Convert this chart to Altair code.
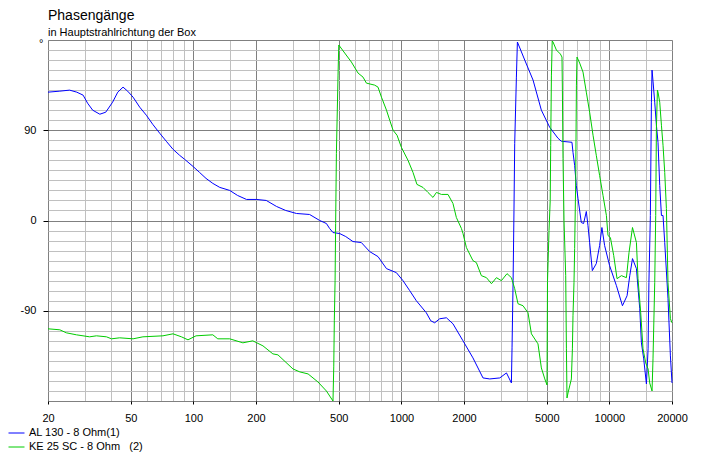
import altair as alt
import pandas as pd

# ---- data ----
al_freq = [20, 22.8, 25.4, 27.5, 29.5, 31, 32.8, 35.5, 37.9, 40.9, 43.3, 45.9, 48.3, 51.3, 55.2, 59.4,
           63.7, 68.9, 74.1, 79.8, 85.9, 90.8, 99.5, 107, 115, 124, 134, 149.5, 163, 180, 201, 224,
           251, 278, 313, 362, 405, 436, 452, 469, 505, 540, 585, 642, 704, 772, 848, 946, 1018,
           1097, 1180, 1318, 1384, 1446, 1528, 1646, 1770, 1978, 2208, 2468, 2660, 2972, 3200,
           3380, 3404, 3444, 3478, 3506, 3572, 3612, 3918, 4296, 4710, 5164, 5662, 5876, 6608,
           6684, 6808, 6934, 7064, 7328, 7516, 7746, 7890, 8036, 8280, 8650, 8974, 9206, 9486,
           10024, 10810, 11556, 12162, 12532, 12914, 13490, 13996, 14256, 14622, 15068, 15348,
           15490, 15740, 15924, 16034, 16208, 16520, 16828, 17130, 17460, 17790, 18108, 18452,
           19136, 19648, 20000]
al_phase = [128, 129, 130, 128, 125, 117, 110, 106, 108, 118, 128, 133, 129, 123, 113, 105,
            96, 87, 79, 71, 65, 61, 54, 48, 42, 37, 33, 30, 25, 21, 21, 20,
            14, 10, 7, 6, 0, -3, -8, -12, -13, -16, -21, -22, -31, -36, -48, -52, -60,
            -70, -80, -92, -100, -102, -98, -97, -103, -120, -137, -157, -158, -157, -152,
            -162, -127, -60, 10, 77, 143, 178, 160, 140, 110, 93, 82, 79, 78,
            68, 55, 35, 22, -2, -3, 9, -5, -22, -50, -43, -25, -7, -25,
            -45, -65, -85, -75, -55, -38, -48, -88, -122, -138, -163, -128,
            -62, 5, 118, 150, 139, 118, 95, 78, 35, 5, 5, -22,
            -78, -135, -162]

ke_freq = [20, 22.8, 24.5, 27.4, 31.7, 34.2, 38.2, 40.4, 44.2, 51.3, 57.2, 71.4, 79.8, 87.6, 94.2,
           103, 124, 131, 149.5, 173, 193, 216, 241, 255, 301, 325, 356, 397, 436, 469, 473,
           476, 480, 483, 487, 496, 500, 534, 575, 619, 654, 679, 744, 772, 802, 848, 879, 912,
           953, 1000, 1076, 1137, 1188, 1270, 1342, 1419, 1474, 1558, 1675, 1770, 1838, 1944,
           1978, 2054, 2208, 2294, 2424, 2564, 2710, 2864, 3026, 3220, 3380, 3506, 3636, 3844,
           4062, 4218, 4536, 4710, 4892, 5012, 5040, 5126, 5194, 5222, 5264, 5310, 5358, 5562,
           5814, 5918, 5944, 5984, 6052, 6166, 6214, 6256, 6324, 6444, 6566, 6640, 6684, 6758,
           6808, 6888, 6942, 6988, 7198, 7468, 7746, 8036, 8344, 8650, 8974, 9318, 9674, 9848,
           10112, 10492, 10884, 11426, 12074, 12426, 12914, 13490, 13728, 14146, 14510, 14950,
           15348, 15626, 16034, 16208, 16520, 16700, 16828, 17020, 17130, 17460, 17790, 18108,
           18452, 18798, 19136, 19648, 20000]
ke_phase = [-108, -109, -112, -114, -116, -115, -116, -118, -117, -118, -116, -115, -113, -116, -119,
            -115, -114, -118, -118, -122, -120, -125, -133, -134, -148, -151, -153, -161, -170, -180, -146,
            -100, -60, -3, 67, 145, 175, 167, 158, 147, 143, 137, 135, 133, 123, 110, 100, 90,
            85, 73, 60, 48, 36, 33, 28, 23, 28, 26, 26, 17, 3, -8,
            -13, -27, -40, -42, -55, -57, -63, -57, -60, -53, -57, -68, -83, -85,
            -92, -113, -123, -147, -158, -164, -61, -10, 20, 75, 145, 179, 178, 170,
            166, 163, 130, 62, 0, -55, -128, -177, -172, -165, -158, -128, -95, -62,
            -28, 40, 135, 163, 157, 148, 128, 108, 85, 65, 45, 25, 5, -15,
            -17, -35, -58, -55, -57, -32, -7, -22, -58, -92, -128, -142,
            -148, -162, -170, -138, -62, 5, 92, 130, 128, 118, 95, 75,
            48, 12, -62, -98, -102]

series_names = ["AL 130 - 8 Ohm(1)", "KE 25 SC - 8 Ohm\u00a0\u00a0 (2)"]
series_colors = ["#0000ff", "#00cc00"]

x_grid = [20, 30, 40, 50, 60, 70, 80, 90, 100, 150, 200, 300, 400, 500, 600, 700, 800, 900,
          1000, 1500, 2000, 3000, 4000, 5000, 6000, 7000, 8000, 9000, 10000, 15000, 20000]
x_labels = [20, 50, 100, 200, 500, 1000, 2000, 5000, 10000, 20000]
y_grid = list(range(-180, 181, 10))
y_labels = [-90, 0, 90]

rows = []
for name, fs, ps in [(series_names[0], al_freq, al_phase), (series_names[1], ke_freq, ke_phase)]:
    for i, (f, p) in enumerate(zip(fs, ps)):
        rows.append({"series": name, "f": f, "phase": p, "i": i})
df = pd.DataFrame(rows)

FONT = "Liberation Sans"
DARK = "#808080"
LIGHT = "#c0c0c0"

x_test = "indexof([" + ",".join(str(v) for v in x_labels) + "], datum.value) >= 0"
y_test = "indexof([" + ",".join(str(v) for v in y_labels) + "], datum.value) >= 0"

x_axis = alt.Axis(
    values=x_grid, title=None, domain=False, labelOverlap=False, labelFlush=False,
    labelExpr=f"({x_test}) ? '' + datum.value : ''",
    gridColor={"condition": {"test": x_test, "value": DARK}, "value": LIGHT},
    tickColor={"condition": {"test": x_test, "value": "#000000"}, "value": "transparent"},
    tickSize=3, labelPadding=8, labelFont=FONT, labelFontSize=11, labelColor="#000000",
)
y_axis = alt.Axis(
    values=y_grid, title=None, domain=False, labelOverlap=False, labelFlush=False,
    labelExpr=f"datum.value == 180 ? '°' : (({y_test}) ? '' + datum.value : '')",
    gridColor={"condition": {"test": "datum.value % 90 == 0", "value": DARK}, "value": LIGHT},
    tickColor={"condition": {"test": y_test, "value": "#000000"}, "value": "transparent"},
    labelPadding={"condition": {"test": "datum.value == 180", "value": 0}, "value": 7},
    labelBaseline={"condition": {"test": "datum.value == 180", "value": "top"}, "value": "middle"},
    labelOffset={"condition": {"test": "datum.value == 180", "value": -3}, "value": 0},
    tickSize=5, labelFont=FONT, labelFontSize=11, labelColor="#000000",
)

chart = alt.Chart(df).mark_line(strokeWidth=1).encode(
    x=alt.X("f:Q", scale=alt.Scale(type="log", domain=[20, 20000], nice=False), axis=x_axis),
    y=alt.Y("phase:Q", scale=alt.Scale(domain=[-180, 180], nice=False, zero=False), axis=y_axis),
    color=alt.Color("series:N", scale=alt.Scale(domain=series_names, range=series_colors),
                    legend=alt.Legend(title=None, orient="none", legendX=-40, legendY=387,
                                      symbolType="stroke", symbolSize=256, symbolStrokeWidth=1,
                                      labelFont=FONT, labelFontSize=11, labelColor="#000000",
                                      clipHeight=12, rowPadding=2, padding=0, labelOffset=4,
                                      labelLimit=0)),
    detail="series:N",
    order="i:Q",
).properties(
    width=624, height=361,
    title=alt.TitleParams(text="Phasengänge", subtitle="in Hauptstrahlrichtung der Box",
                          anchor="start", frame="group", font=FONT, fontSize=14,
                          fontWeight="normal", color="#000000", subtitleFont=FONT,
                          subtitleFontSize=11, subtitleColor="#000000", subtitlePadding=4,
                          offset=5, dy=6),
    autosize=alt.AutoSizeParams(type="none"),
    padding={"left": 40, "top": 32, "right": 38, "bottom": 56},
).configure_view(stroke=DARK, strokeWidth=1).configure(background="white")

chart.save("out.html", embed_options={"renderer": "svg", "actions": False})
